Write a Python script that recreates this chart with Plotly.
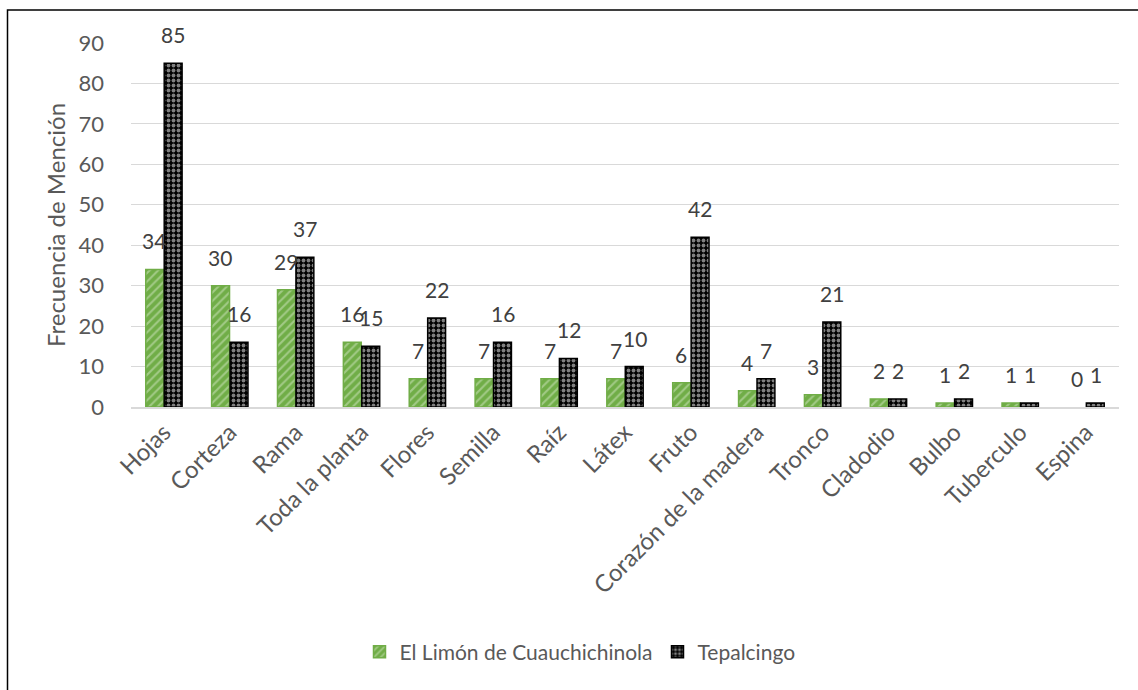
import plotly.graph_objects as go

categories = ["Hojas", "Corteza", "Rama", "Toda la planta", "Flores", "Semilla", "Raíz",
              "Látex", "Fruto", "Corazón de la madera", "Tronco", "Cladodio", "Bulbo",
              "Tuberculo", "Espina"]
limon = [34, 30, 29, 16, 7, 7, 7, 7, 6, 4, 3, 2, 1, 1, 0]
tepalcingo = [85, 16, 37, 15, 22, 16, 12, 10, 42, 7, 21, 2, 2, 1, 1]
series_names = ["El Limón de Cuauchichinola", "Tepalcingo"]
y_ticks = [0, 10, 20, 30, 40, 50, 60, 70, 80, 90]

FONT = "Lato"
FS = 21
GRAY = "#595959"
LABEL = "#404040"
GREEN = "#70AD47"

fig = go.Figure()
fig.add_trace(go.Bar(
    x=categories, y=limon, name=series_names[0],
    marker=dict(color=GREEN,
                line=dict(color=GREEN, width=[1.5 if v > 0 else 0 for v in limon]),
                pattern=dict(shape="/", fgcolor="#D4E8C6", bgcolor=GREEN,
                             size=6, solidity=0.35, fillmode="overlay")),
))
fig.add_trace(go.Bar(
    x=categories, y=tepalcingo, name=series_names[1],
    marker=dict(color="black",
                line=dict(color="black", width=1.5),
                pattern=dict(shape=".", fgcolor="white", bgcolor="black",
                             size=5, solidity=0.45, fillmode="overlay")),
))

annotations = []
for c, g, b in zip(categories, limon, tepalcingo):
    for val, xs in ((g, -9.5), (b, 9.5)):
        annotations.append(dict(x=c, y=val, text=str(val), showarrow=False,
                                xref="x", yref="y", xshift=xs, yshift=14,
                                yanchor="bottom",
                                font=dict(family=FONT, size=FS, color=LABEL)))

L, R, T, B = 131, 19, 43, 283
W, H = 1138, 690
pw, ph = W - L - R, H - T - B

def px_x(p):
    return (p - L) / pw

def px_y(p):
    return (H - B - p) / ph

fig.update_layout(
    width=W, height=H,
    margin=dict(l=L, r=R, t=T, b=B, autoexpand=False),
    paper_bgcolor="white", plot_bgcolor="white",
    barmode="group", bargap=0.44, bargroupgap=0.03,
    font=dict(family=FONT, size=FS, color=GRAY),
    annotations=annotations,
    showlegend=True,
    legend=dict(orientation="h", xanchor="center", yanchor="middle",
                x=px_x(580), y=px_y(652),
                font=dict(family=FONT, size=FS, color=GRAY),
                itemwidth=30, bgcolor="rgba(0,0,0,0)"),
    xaxis=dict(tickangle=-45, showgrid=False, showline=True,
               linecolor="#D9D9D9", linewidth=1.5, ticks="",
               tickfont=dict(family=FONT, size=24, color=GRAY),
               range=[-0.5, len(categories) - 0.5]),
    yaxis=dict(range=[0, 90], tickvals=y_ticks, showgrid=True,
               gridcolor="#D9D9D9", gridwidth=1, zeroline=False,
               showline=False, ticks="", ticklabelstandoff=26,
               tickfont=dict(family=FONT, size=22, color=GRAY),
               title=dict(text="Frecuencia de Mención", standoff=6,
                          font=dict(family=FONT, size=24, color=GRAY))),
    shapes=[dict(type="rect", xref="paper", yref="paper",
                 x0=px_x(7.5), x1=px_x(1145), y0=px_y(700), y1=px_y(10),
                 line=dict(color="black", width=1.5), layer="below")],
)

fig.write_html("out.html")
